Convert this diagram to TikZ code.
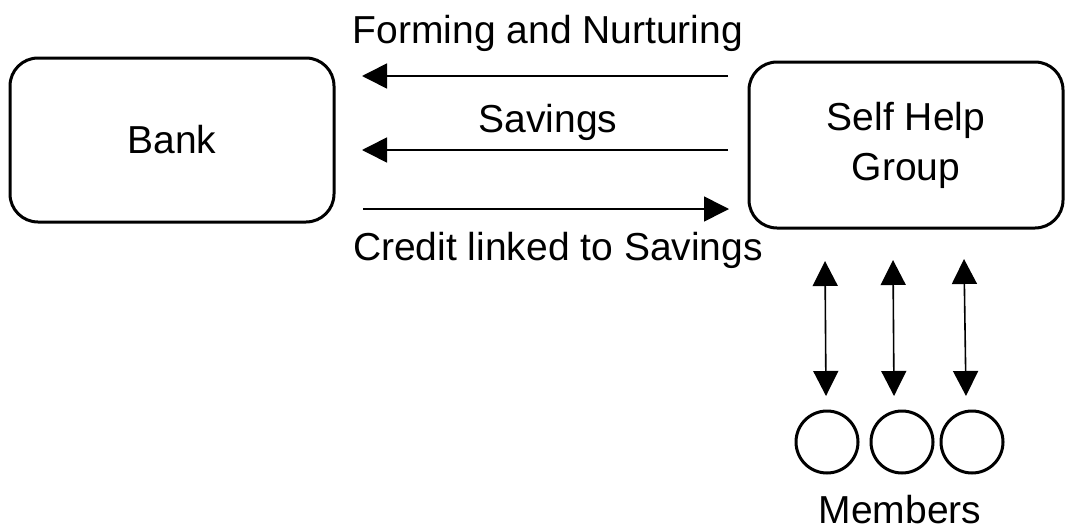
\documentclass[tikz,border=0pt]{standalone}
\usepackage{fontspec}
\setmainfont{Liberation Sans}
\usetikzlibrary{arrows.meta}
\begin{document}
\begin{tikzpicture}[x=1pt,y=-1pt,
  box/.style={draw, line width=3pt, rounded corners=28pt, minimum width=324pt, minimum height=164pt, align=center, font=\fontsize{39}{50}\selectfont},
  lbl/.style={font=\fontsize{39}{46}\selectfont, inner sep=0pt},
  arr/.style={line width=1.6pt, -{Triangle[length=25pt,width=25pt]}},
  darr/.style={line width=1.6pt, {Triangle[length=25pt,width=25pt]}-{Triangle[length=25pt,width=25pt]}},
  mem/.style={draw, circle, line width=3pt, minimum size=62pt, inner sep=0pt}]
\useasboundingbox (0,0) rectangle (1065,530);
\node[box] (bank) at (172,140) {Bank};
\node[box, minimum width=314pt, minimum height=166pt] (shg) at (906,145) {Self Help\\Group};
\coordinate (a1s) at (728,76); \coordinate (a1e) at (362,76);
\coordinate (a2s) at (728,150); \coordinate (a2e) at (362,150);
\coordinate (a3s) at (363,209); \coordinate (a3e) at (729,209);
\draw[arr] (a1s) -- (a1e);
\draw[arr] (a2s) -- (a2e);
\draw[arr] (a3s) -- (a3e);
\node[lbl] (t1) at (548,33) {Forming and Nurturing};
\node[lbl] (t2) at (548,122) {Savings};
\node[lbl] (t3) at (558,250) {Credit linked to Savings};
\node[mem] (m1) at (827,442) {};
\node[mem] (m2) at (902,442) {};
\node[mem] (m3) at (972,442) {};
\coordinate (u1) at (825,261); \coordinate (d1) at (826,396);
\coordinate (u2) at (893,260); \coordinate (d2) at (894,396);
\coordinate (u3) at (964,259); \coordinate (d3) at (966,396);
\draw[darr] (u1) -- (d1);
\draw[darr] (u2) -- (d2);
\draw[darr] (u3) -- (d3);
\node[lbl] (mt) at (900,510) {Members};
\end{tikzpicture}
\end{document}
